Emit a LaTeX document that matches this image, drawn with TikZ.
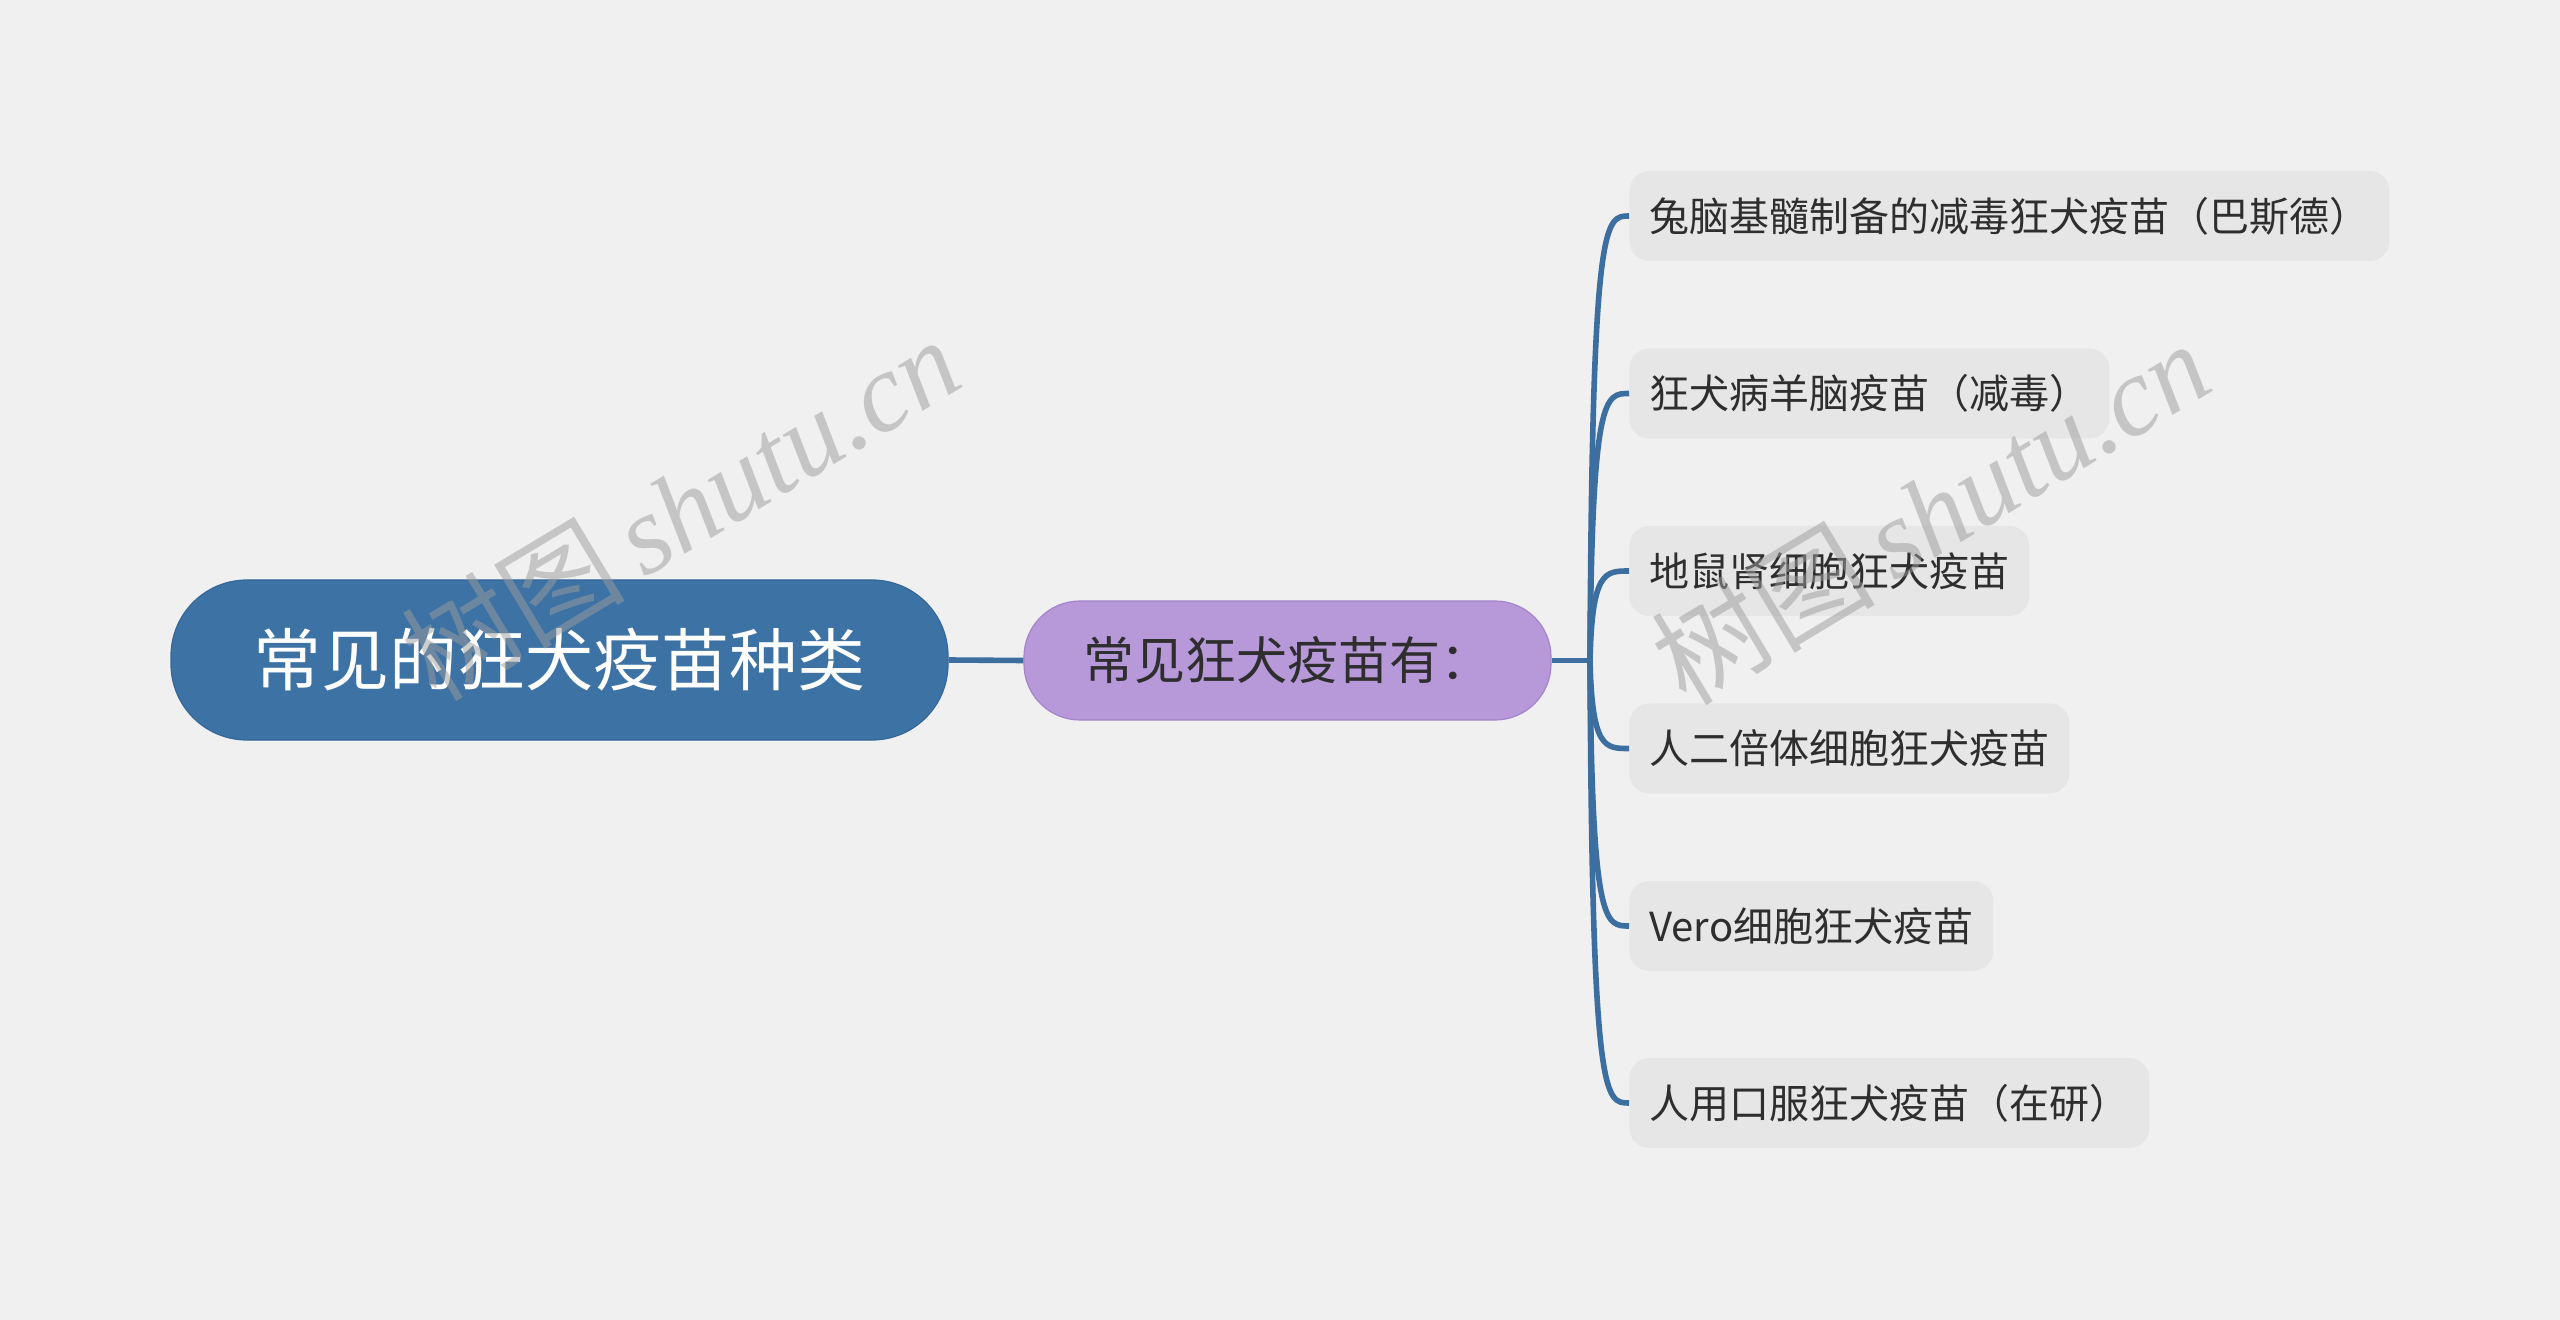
\documentclass[tikz,border=0pt]{standalone}
\usepackage{fontspec}
\setmainfont{Noto Sans CJK SC}
\newfontfamily\wmlatin{Liberation Serif}
\definecolor{bgc}{HTML}{F0F0F0}
\definecolor{rootc}{HTML}{3D72A4}
\definecolor{rootb}{HTML}{35679A}
\definecolor{midc}{HTML}{B799DA}
\definecolor{midb}{HTML}{A584CC}
\definecolor{leafc}{HTML}{E6E6E6}
\definecolor{linec}{HTML}{3C6FA0}
\definecolor{txtc}{HTML}{2E2E2E}
\definecolor{wmc}{HTML}{9C9C9C}
\tikzset{
  rootbox/.style={draw=rootb, line width=0.6pt, fill=rootc, text=white, rounded corners=38pt,
    minimum width=388.5pt, minimum height=80pt, inner sep=0pt, font=\fontsize{34pt}{40pt}\selectfont},
  midbox/.style={draw=midb, line width=0.6pt, fill=midc, text=txtc, rounded corners=28pt,
    minimum width=263.5pt, minimum height=59.5pt, inner sep=0pt, font=\fontsize{25.5pt}{30pt}\selectfont},
  leafbox/.style={fill=leafc, text=txtc, rounded corners=10pt, anchor=west,
    minimum height=45pt, inner xsep=10pt, inner ysep=0pt, font=\fontsize{20pt}{24pt}\selectfont},
  conn/.style={draw=linec, line width=2.8pt},
  wmark/.style={text=wmc, text opacity=0.5, rotate=31, inner sep=0pt}
}
\begin{document}
\begin{tikzpicture}[x=0.5pt,y=-0.5pt]
\useasboundingbox (0,0) rectangle (2560,1320);
\fill[bgc] (0,0) rectangle (2560,1320);

\node[rootbox] (root) at (559.5,660) {常见的狂犬疫苗种类};
\node[midbox] (mid) at (1287.5,660.5) {常见狂犬疫苗有：};
\coordinate (hub) at (1590,660.5);

\node[leafbox] (l1) at (1629,216) {兔脑基髓制备的减毒狂犬疫苗（巴斯德）};
\node[leafbox] (l2) at (1629,393.5) {狂犬病羊脑疫苗（减毒）};
\node[leafbox] (l3) at (1629,571) {地鼠肾细胞狂犬疫苗};
\node[leafbox] (l4) at (1629,748.5) {人二倍体细胞狂犬疫苗};
\node[leafbox] (l5) at (1629,926) {Vero细胞狂犬疫苗};
\node[leafbox] (l6) at (1629,1103) {人用口服狂犬疫苗（在研）};

\draw[conn] (root.east) -- (mid.west);
\draw[conn] (mid.east) -- (hub);
\foreach \l in {l1,l2,l3,l4,l5,l6}{
  \draw[conn] (hub) .. controls ([xshift=1pt]hub |- \l.west) and ([xshift=-12pt]\l.west) .. (\l.west);
}

\node[wmark] (wm1) at (680,508) {\fontsize{56pt}{64pt}\selectfont 树图\,{\wmlatin\itshape shutu.cn}};
\node[wmark] (wm2) at (1930,512) {\fontsize{56pt}{64pt}\selectfont 树图\,{\wmlatin\itshape shutu.cn}};
\end{tikzpicture}
\end{document}
